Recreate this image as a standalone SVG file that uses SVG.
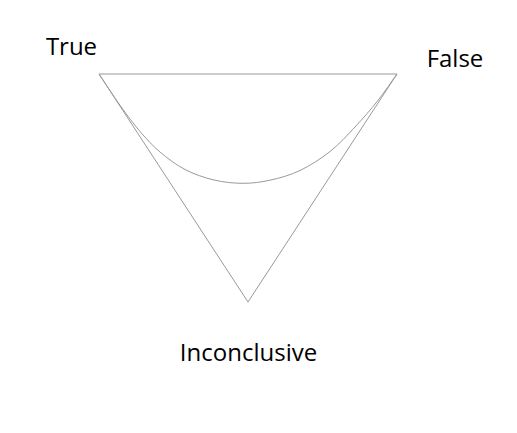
<svg xmlns="http://www.w3.org/2000/svg" width="517" height="433" viewBox="0 0 517 433">
<style>
.lbl{font-family:"Open Sans","Noto Sans",sans-serif;font-size:24px;fill:#000;text-anchor:middle}
.ln{fill:none;stroke:#999;stroke-width:1}
</style>
<rect width="517" height="433" fill="#fff"/>
<g id="connectors">
<path class="ln" d="M99,74 L397,74 L248,302 Z"/>
<path class="ln" d="M99,74 C106.2,84.7 113.6,96.3 120.5,106 C127.4,115.7 133.9,124.3 140.5,132 C147.1,139.7 152.6,145.75 160,152 C167.4,158.25 176,164.8 185,169.5 C194,174.2 204.3,177.7 214,180 C223.7,182.3 233.7,183.27 243,183.3 C252.3,183.33 260.5,182.3 270,180.2 C279.5,178.1 290,175.3 300,170.5 C310,165.7 320.8,158.75 330,151.5 C339.2,144.25 347.1,135.4 355,127 C362.9,118.6 370.5,109.8 377.5,101 C384.5,92.2 390.5,83 397,74"/>
</g>
<g id="node-true"><text class="lbl" x="71.5" y="55">True</text></g>
<g id="node-false"><text class="lbl" x="455" y="67">False</text></g>
<g id="node-inconclusive"><text class="lbl" x="248.5" y="361">Inconclusive</text></g>
</svg>
